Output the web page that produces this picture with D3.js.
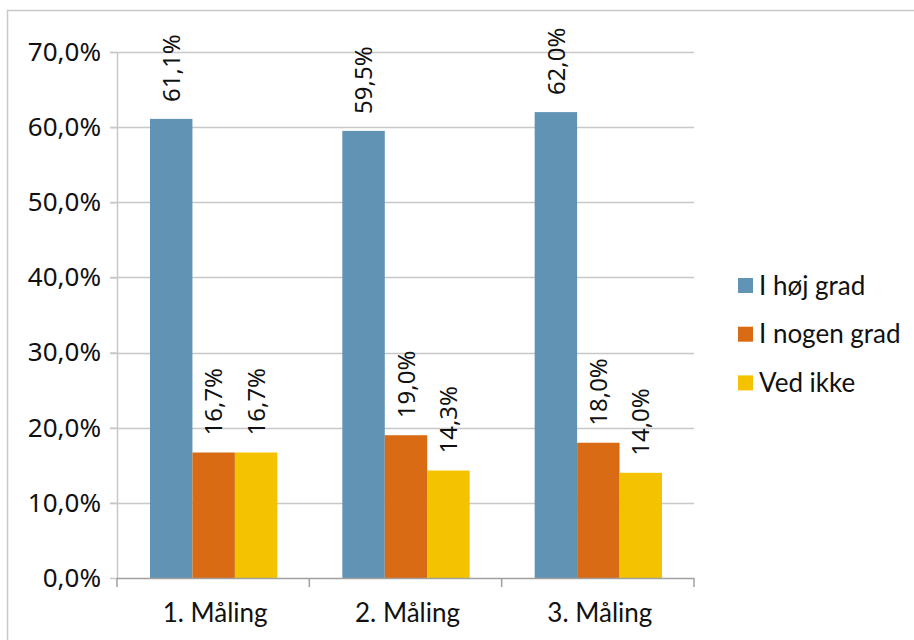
<!DOCTYPE html>
<html>
<head>
<meta charset="utf-8">
<script src="https://cdn.jsdelivr.net/npm/d3@7"></script>
<style>
html,body{margin:0;padding:0;background:#fff;}
svg{display:block;}
</style>
</head>
<body>
<svg id="chart" width="914" height="640"></svg>
<script>
const categories = ["1. Måling", "2. Måling", "3. Måling"];
const seriesNames = ["I høj grad", "I nogen grad", "Ved ikke"];
const hojGrad = [61.1, 59.5, 62.0];
const nogenGrad = [16.7, 19.0, 18.0];
const vedIkke = [16.7, 14.3, 14.0];
const seriesColors = ["#6193b4", "#d96b14", "#f5c200"];
const yTicks = [0, 10, 20, 30, 40, 50, 60, 70];

const seriesValues = [hojGrad, nogenGrad, vedIkke];
const svg = d3.select("#chart");
const fmt = v => v.toFixed(1).replace(".", ",") + "%";

// outer border
svg.append("rect").attr("x", 7.5).attr("y", 10.5).attr("width", 920).attr("height", 650)
  .attr("fill", "none").attr("stroke", "#c9c9c9").attr("stroke-width", 1.5);

const plot = {left: 117, right: 694, top: 52, bottom: 578};
const y = d3.scaleLinear().domain([0, 70]).range([plot.bottom, plot.top]);
const x0 = d3.scaleBand().domain(categories).range([plot.left, plot.right]).padding(0);
const x1 = d3.scaleBand().domain(seriesNames).range([33, x0.bandwidth() - 32]).padding(0);

// gridlines
svg.append("g").selectAll("line").data(yTicks.filter(t => t > 0)).join("line")
  .attr("x1", plot.left - 7).attr("x2", plot.right)
  .attr("y1", d => Math.round(y(d)) + 0.5).attr("y2", d => Math.round(y(d)) + 0.5)
  .attr("stroke", "#c8c8c8").attr("stroke-width", 1.5);

// y axis
const yAxis = svg.append("g").attr("transform", `translate(${plot.left},0)`)
  .call(d3.axisLeft(y).tickValues(yTicks).tickSize(7).tickSizeOuter(0).tickPadding(9).tickFormat(fmt));
yAxis.select(".domain").attr("stroke", "#c8c8c8").attr("stroke-width", 1.5);
yAxis.selectAll(".tick line").attr("stroke", "#c8c8c8").attr("stroke-width", 1.5);
yAxis.selectAll("text").attr("font-family", "Noto Sans").attr("font-size", 26).attr("fill", "#111");

// bars
const groups = svg.append("g").selectAll("g").data(categories).join("g")
  .attr("transform", d => `translate(${x0(d)},0)`);
groups.selectAll("rect").data((c, i) => seriesNames.map((s, j) => ({s, j, v: seriesValues[j][i]})))
  .join("rect")
  .attr("x", d => x1(d.s)).attr("width", x1.bandwidth())
  .attr("y", d => y(d.v)).attr("height", d => y(0) - y(d.v))
  .attr("fill", d => seriesColors[d.j]);

// data labels
groups.selectAll("text").data((c, i) => seriesNames.map((s, j) => ({s, j, v: seriesValues[j][i]})))
  .join("text")
  .attr("transform", d => `translate(${x1(d.s) + x1.bandwidth() / 2},${y(d.v) - 17}) rotate(-90)`)
  .attr("dy", "0.36em")
  .attr("font-family", "Noto Sans").attr("font-size", 24).attr("fill", "#111")
  .text(d => fmt(d.v));

// x axis
const xTickPos = [plot.left].concat(categories.map(c => x0(c) + x0.bandwidth()));
svg.append("line").attr("x1", plot.left).attr("x2", plot.right)
  .attr("y1", plot.bottom + 0.5).attr("y2", plot.bottom + 0.5)
  .attr("stroke", "#a0a0a0").attr("stroke-width", 1.5);
svg.append("g").selectAll("line").data(xTickPos).join("line")
  .attr("x1", d => d).attr("x2", d => d).attr("y1", plot.bottom).attr("y2", plot.bottom + 9)
  .attr("stroke", "#a0a0a0").attr("stroke-width", 1.5);
svg.append("g").selectAll("text").data(categories).join("text")
  .attr("x", d => x0(d) + x0.bandwidth() / 2 + 2).attr("y", 622)
  .attr("text-anchor", "middle")
  .attr("font-family", "Lato").attr("font-size", 26).attr("fill", "#111")
  .text(d => d);

// legend
const legend = svg.append("g").selectAll("g").data(seriesNames).join("g")
  .attr("transform", (d, i) => `translate(738,${285.5 + i * 48.7})`);
legend.append("rect").attr("x", 0).attr("y", -7.5).attr("width", 15).attr("height", 15)
  .attr("fill", (d, i) => seriesColors[i]);
legend.append("text").attr("x", 21).attr("y", 0).attr("dy", "0.35em")
  .attr("font-family", "Lato").attr("font-size", 26).attr("fill", "#111")
  .text(d => d);
</script>
</body>
</html>
